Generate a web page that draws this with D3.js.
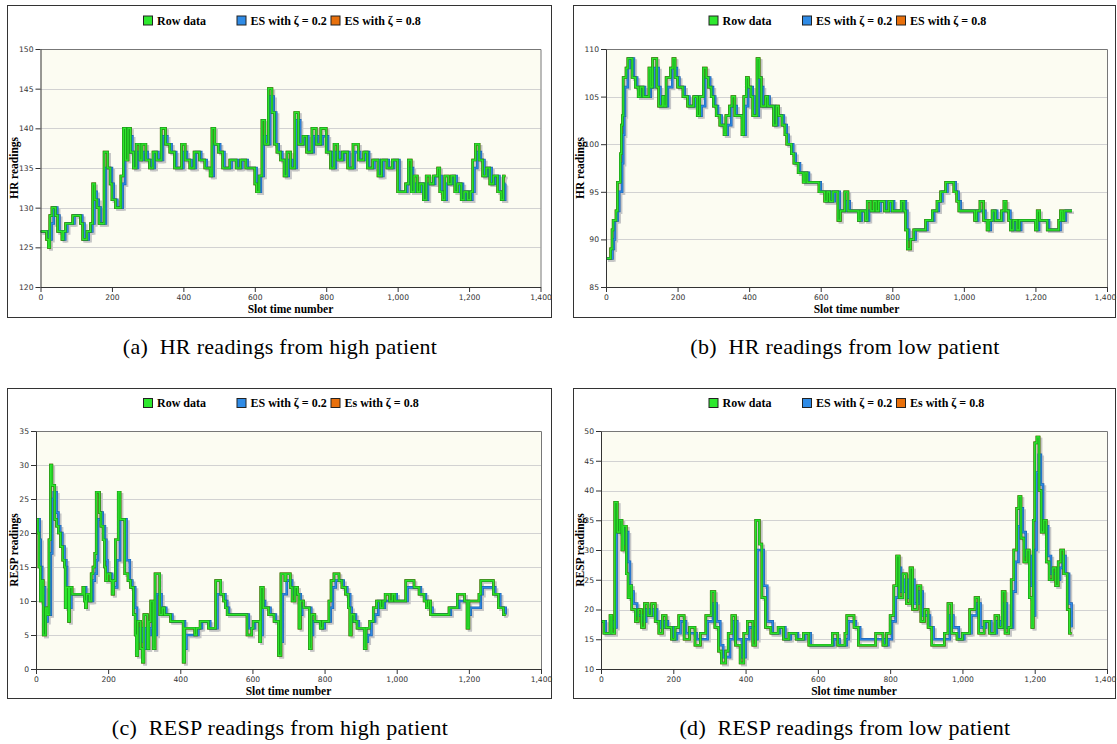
<!DOCTYPE html>
<html>
<head>
<meta charset="utf-8">
<script src="https://cdn.jsdelivr.net/npm/d3@7"></script>
<style>
  body { margin: 0; background: #fff; }
</style>
</head>
<body>
<div id="chart"></div>
<script>
// ---- data: [slot, reading] change points ----
// (a) HR, high patient
var hrHighRaw = [[0,127],[17,126],[22,125],[26,129],[32,130],[42,129],[48,127],[60,126],[64,127],[70,128],[90,129],[112,128],[118,126],[130,127],[140,128],[146,133],[152,131],[158,130],[164,128],[178,137],[188,135],[195,133],[200,131],[210,130],[225,134],[232,140],[238,136],[245,140],[252,137],[260,135],[268,138],[278,136],[284,138],[295,136],[305,135],[315,137],[325,136],[338,140],[350,138],[362,137],[375,135],[395,138],[405,136],[418,135],[430,137],[445,136],[460,135],[475,134],[480,140],[488,138],[498,137],[510,135],[530,136],[548,135],[560,136],[575,135],[600,133],[605,132],[612,134],[620,141],[628,138],[638,145],[648,142],[655,138],[662,137],[672,136],[682,134],[690,137],[700,135],[712,142],[722,138],[735,139],[745,137],[760,140],[772,138],[785,140],[800,137],[812,135],[822,138],[832,136],[845,137],[860,135],[875,138],[890,136],[905,137],[915,135],[930,136],[945,134],[955,136],[970,135],[985,136],[1000,132],[1022,133],[1030,136],[1038,132],[1046,134],[1055,132],[1062,133],[1072,131],[1080,134],[1090,133],[1100,134],[1112,135],[1118,132],[1126,131],[1132,134],[1142,133],[1150,134],[1160,132],[1168,133],[1178,131],[1186,132],[1196,131],[1204,132],[1210,136],[1218,138],[1228,136],[1238,134],[1248,135],[1258,133],[1268,134],[1280,132],[1290,131],[1296,134],[1302,134]];
var hrHighEs2 = [[0,127],[22,126],[31,128],[37,130],[47,129],[53,127],[65,126],[69,127],[75,128],[95,129],[117,128],[123,126],[135,127],[145,128],[151,132],[157,131],[163,130],[169,128],[183,135],[200,133],[205,131],[215,130],[230,133],[237,138],[243,137],[250,139],[257,137],[265,135],[273,137],[283,136],[289,137],[300,136],[310,135],[320,137],[330,136],[343,139],[355,138],[367,137],[380,135],[400,137],[410,136],[423,135],[435,137],[450,136],[465,135],[480,134],[485,138],[503,137],[515,135],[535,136],[553,135],[565,136],[580,135],[605,133],[610,132],[617,134],[625,139],[633,138],[643,144],[653,142],[660,138],[667,137],[677,136],[687,134],[695,136],[705,135],[717,141],[727,138],[740,139],[750,137],[765,139],[777,138],[790,139],[805,137],[817,135],[827,137],[837,136],[850,137],[865,135],[880,137],[895,136],[910,137],[920,135],[935,136],[950,134],[960,136],[975,135],[990,136],[1005,132],[1027,133],[1035,135],[1043,132],[1051,133],[1060,132],[1067,133],[1077,131],[1085,133],[1105,134],[1123,132],[1131,131],[1137,133],[1155,134],[1165,132],[1173,133],[1183,131],[1191,132],[1201,131],[1209,132],[1215,135],[1223,137],[1233,136],[1243,134],[1253,135],[1263,133],[1273,134],[1285,132],[1295,131],[1301,133],[1302,133]];

// (b) HR, low patient
var hrLowRaw = [[0,88],[13,89],[17,91],[20,92],[28,93],[32,96],[40,99],[43,102],[46,103],[48,107],[56,108],[61,109],[73,107],[82,106],[90,105],[96,106],[104,105],[120,108],[125,106],[130,109],[142,106],[147,104],[158,105],[162,104],[168,107],[180,108],[187,109],[193,107],[200,106],[215,105],[228,104],[245,105],[255,103],[262,105],[272,108],[280,107],[286,106],[294,105],[300,104],[308,103],[318,102],[330,101],[335,103],[345,104],[352,105],[360,103],[380,101],[385,105],[392,107],[398,106],[405,105],[410,103],[422,109],[428,107],[434,104],[446,105],[452,104],[468,102],[476,104],[482,103],[492,102],[500,101],[505,100],[518,99],[525,98],[537,97],[551,96],[556,97],[562,96],[595,95],[611,94],[618,95],[625,94],[634,95],[648,92],[655,93],[667,95],[676,93],[705,92],[710,93],[725,92],[730,94],[740,93],[748,94],[755,93],[762,94],[778,93],[790,94],[800,93],[825,94],[833,93],[837,91],[842,89],[851,90],[860,91],[893,92],[912,93],[925,94],[935,95],[949,96],[972,95],[980,94],[986,93],[1030,92],[1035,93],[1045,94],[1055,92],[1065,91],[1070,92],[1079,93],[1088,92],[1105,93],[1112,94],[1118,93],[1125,92],[1130,91],[1138,92],[1148,91],[1155,92],[1200,91],[1205,93],[1212,92],[1233,91],[1265,92],[1270,93],[1275,92],[1280,93],[1302,93]];
var hrLowEs2 = [[0,88],[18,89],[22,90],[25,92],[33,93],[37,95],[45,98],[48,101],[51,103],[53,106],[61,108],[66,109],[78,107],[87,106],[95,105],[101,106],[109,105],[125,107],[130,106],[135,108],[147,106],[152,104],[163,105],[167,104],[173,106],[185,108],[198,107],[205,106],[220,105],[233,104],[250,105],[260,103],[267,104],[277,107],[291,106],[299,105],[305,104],[313,103],[323,102],[335,101],[340,102],[350,104],[365,103],[385,101],[390,104],[397,106],[410,105],[415,103],[427,107],[433,106],[439,104],[451,105],[457,104],[473,102],[481,103],[497,102],[505,101],[510,100],[523,99],[530,98],[542,97],[556,96],[561,97],[567,96],[600,95],[616,94],[623,95],[630,94],[639,95],[653,93],[672,94],[681,93],[710,92],[715,93],[730,92],[735,93],[753,94],[760,93],[767,94],[783,93],[795,94],[805,93],[830,94],[838,93],[842,91],[847,90],[865,91],[898,92],[917,93],[930,94],[940,95],[954,96],[977,95],[985,94],[991,93],[1035,92],[1040,93],[1060,92],[1070,91],[1075,92],[1084,93],[1093,92],[1110,93],[1130,92],[1135,91],[1143,92],[1153,91],[1160,92],[1205,91],[1210,92],[1238,91],[1270,92],[1285,93],[1302,93]];

// (c) RESP, high patient
var respHighRaw = [[0,22],[5,20],[8,15],[12,10],[16,13],[20,5],[27,9],[31,8],[36,19],[40,30],[44,27],[52,22],[57,21],[62,20],[68,18],[74,16],[79,15],[81,9],[84,12],[90,7],[93,12],[100,11],[130,12],[134,10],[137,9],[140,11],[148,10],[153,14],[158,15],[163,17],[167,26],[176,23],[180,21],[186,19],[190,15],[193,13],[198,14],[206,13],[211,11],[215,13],[220,19],[228,26],[233,22],[246,14],[255,13],[262,12],[270,8],[275,5],[278,2],[282,7],[290,3],[295,1],[299,8],[309,3],[313,7],[318,10],[325,3],[330,14],[343,8],[350,9],[356,8],[373,7],[408,1],[412,6],[440,5],[445,6],[455,7],[478,6],[498,13],[512,11],[520,10],[525,9],[530,8],[585,5],[598,6],[602,7],[620,4],[623,12],[630,9],[645,8],[660,7],[672,2],[679,14],[690,13],[693,14],[705,12],[710,10],[718,12],[725,11],[729,6],[733,10],[742,9],[758,3],[763,8],[773,7],[788,6],[795,7],[812,10],[818,13],[826,14],[840,13],[848,12],[858,11],[866,9],[870,5],[874,8],[882,7],[890,6],[910,3],[915,6],[925,7],[935,9],[944,10],[955,9],[962,10],[968,11],[980,10],[988,11],[995,10],[1025,13],[1048,12],[1062,11],[1076,10],[1082,9],[1088,10],[1094,8],[1145,9],[1168,11],[1188,10],[1195,6],[1200,10],[1228,11],[1233,13],[1268,11],[1282,9],[1296,8],[1302,8]];
var respHighEs2 = [[0,22],[10,19],[13,15],[17,11],[21,12],[25,7],[32,8],[41,17],[45,25],[49,26],[57,23],[62,21],[67,20],[73,18],[79,16],[84,15],[86,11],[95,9],[98,11],[135,12],[139,11],[142,10],[158,13],[163,14],[168,16],[172,22],[181,23],[185,21],[191,19],[195,16],[198,14],[211,13],[216,12],[225,16],[233,22],[251,16],[260,13],[267,12],[275,9],[280,6],[283,4],[287,6],[295,4],[300,3],[304,6],[314,5],[318,6],[323,9],[330,5],[335,11],[348,9],[361,8],[378,7],[413,3],[417,5],[450,6],[460,7],[483,6],[503,11],[525,10],[530,9],[535,8],[590,6],[607,7],[625,5],[628,10],[635,9],[650,8],[665,7],[677,4],[684,11],[695,13],[710,12],[715,11],[730,11],[734,8],[738,9],[763,5],[768,7],[793,6],[800,7],[817,9],[823,12],[831,13],[853,12],[863,11],[871,9],[875,7],[879,8],[887,7],[895,6],[915,4],[920,5],[930,7],[940,8],[949,10],[960,9],[967,10],[993,11],[1000,10],[1030,12],[1067,11],[1081,10],[1087,9],[1099,8],[1150,9],[1173,10],[1200,8],[1205,9],[1233,11],[1238,12],[1273,11],[1287,9],[1302,8]];

// (d) RESP, low patient
var respLowRaw = [[0,18],[8,16],[25,19],[30,16],[38,38],[45,33],[52,35],[58,30],[62,34],[70,26],[75,22],[80,24],[85,20],[95,18],[103,20],[112,17],[120,21],[130,19],[140,21],[150,18],[160,16],[170,19],[180,17],[195,15],[205,17],[215,19],[230,15],[245,17],[260,14],[275,16],[290,19],[305,23],[315,17],[325,13],[333,11],[345,13],[352,16],[362,19],[372,14],[385,11],[395,16],[405,18],[420,14],[428,35],[438,31],[445,22],[455,17],[470,16],[490,17],[505,15],[520,16],[540,15],[560,16],[575,14],[640,16],[655,14],[675,16],[680,19],[700,17],[712,14],[760,16],[780,14],[790,16],[800,19],[810,24],[818,29],[825,22],[835,26],[845,21],[855,27],[862,20],[875,24],[885,18],[895,20],[905,17],[915,14],[950,16],[960,21],[970,16],[985,15],[1000,16],[1020,20],[1035,22],[1045,16],[1060,18],[1075,16],[1090,19],[1100,17],[1110,23],[1118,16],[1128,17],[1135,25],[1142,30],[1150,37],[1156,39],[1162,32],[1170,28],[1178,30],[1185,22],[1192,17],[1196,35],[1200,48],[1206,49],[1212,40],[1218,33],[1225,35],[1232,28],[1240,25],[1250,27],[1258,24],[1265,28],[1272,30],[1280,26],[1290,20],[1296,16],[1302,16]];
var respLowEs2 = [[0,18],[13,16],[30,18],[35,17],[43,33],[57,34],[63,31],[67,33],[75,28],[80,24],[85,23],[90,21],[100,19],[117,18],[125,20],[135,19],[145,20],[155,18],[165,17],[175,18],[185,17],[200,15],[210,16],[220,18],[235,16],[265,15],[295,18],[310,21],[320,18],[330,14],[338,12],[357,15],[367,18],[377,15],[390,12],[400,15],[410,17],[425,15],[433,30],[450,24],[460,18],[475,16],[495,17],[510,15],[525,16],[545,15],[565,16],[580,14],[645,15],[660,14],[680,15],[685,18],[705,17],[717,15],[785,14],[795,15],[805,18],[815,22],[823,27],[830,23],[840,25],[850,22],[860,25],[867,21],[880,23],[890,19],[910,17],[920,15],[965,19],[975,17],[990,15],[1005,16],[1025,19],[1040,21],[1050,17],[1065,18],[1080,16],[1095,18],[1105,17],[1115,21],[1123,17],[1140,23],[1147,28],[1155,34],[1161,37],[1167,33],[1175,29],[1190,24],[1197,19],[1201,30],[1205,43],[1211,46],[1217,41],[1223,35],[1230,34],[1237,29],[1245,26],[1263,25],[1270,27],[1277,29],[1285,26],[1295,21],[1302,17]];

// axis tick values and labels
var slotTicks = [0, 200, 400, 600, 800, 1000, 1200, 1400];
var hrHighTicks = [120, 125, 130, 135, 140, 145, 150];
var hrLowTicks = [85, 90, 95, 100, 105, 110];
var respHighTicks = [0, 5, 10, 15, 20, 25, 30, 35];
var respLowTicks = [10, 15, 20, 25, 30, 35, 40, 45, 50];
var legendHR = ["Row data", "ES with ζ = 0.2", "ES with ζ = 0.8"];
var legendRESP = ["Row data", "ES with ζ = 0.2", "Es with ζ = 0.8"];

// ---- layout ----
var svgWidth = 1117;
var svgHeight = 744;
var serif = "'Liberation Serif', 'Times New Roman', serif";
var sans = "'DejaVu Sans', Verdana, sans-serif";

var colors = {
    raw: {outer: "#1b9e1b", inner: "#2ee82e"},
    es2: {outer: "#1d62b4", inner: "#2f8be6"},
    es8: {outer: "#a84600", inner: "#e8700c"}
};

var panels = [
    {box: [7, 5, 544, 312], plot: [40.5, 49, 540.5, 287], ticks: hrHighTicks, yTitle: "HR readings",
     legend: legendHR, legendX: 143, legendY: 15.5, raw: hrHighRaw, es2: hrHighEs2,
     caption: "(a)  HR readings from high patient", capX: 280, capY: 354, titleY: 313},
    {box: [573, 5, 542, 312], plot: [606, 49, 1107, 287], ticks: hrLowTicks, yTitle: "HR readings",
     legend: legendHR, legendX: 708.5, legendY: 15.5, raw: hrLowRaw, es2: hrLowEs2,
     caption: "(b)  HR readings from low patient", capX: 845, capY: 354, titleY: 313},
    {box: [7, 388, 544, 310], plot: [36, 431, 541, 669], ticks: respHighTicks, yTitle: "RESP readings",
     legend: legendRESP, legendX: 143, legendY: 398, raw: respHighRaw, es2: respHighEs2,
     caption: "(c)  RESP readings from high patient", capX: 280, capY: 735, titleY: 695},
    {box: [573, 388, 542, 310], plot: [601, 431, 1107, 669], ticks: respLowTicks, yTitle: "RESP readings",
     legend: legendRESP, legendX: 708.5, legendY: 398, raw: respLowRaw, es2: respLowEs2,
     caption: "(d)  RESP readings from low patient", capX: 845, capY: 735, titleY: 695}
];

var svg = d3.select("#chart")
    .append("svg")
    .attr("width", svgWidth)
    .attr("height", svgHeight)
    .style("background", "#fff");

panels.forEach(function(p, i) {
    var g = svg.append("g");
    var px0 = p.plot[0], py0 = p.plot[1], px1 = p.plot[2], py1 = p.plot[3];

    // outer frame
    g.append("rect")
        .attr("x", p.box[0] + 0.5).attr("y", p.box[1] + 0.5)
        .attr("width", p.box[2]).attr("height", p.box[3])
        .attr("fill", "#fff").attr("stroke", "#333").attr("stroke-width", 1);

    var x = d3.scaleLinear().domain([0, 1400]).range([px0, px1]);
    var y = d3.scaleLinear().domain(d3.extent(p.ticks)).range([py1, py0]);

    // plot background
    g.append("rect")
        .attr("x", px0).attr("y", py0)
        .attr("width", px1 - px0).attr("height", py1 - py0)
        .attr("fill", "#fcfcf2");

    // horizontal gridlines
    g.selectAll(".grid")
        .data(p.ticks.slice(1, -1))
        .enter()
        .append("line")
        .attr("x1", px0).attr("x2", px1)
        .attr("y1", d => Math.round(y(d)) + 0.5)
        .attr("y2", d => Math.round(y(d)) + 0.5)
        .attr("stroke", "#d2d2d2").attr("stroke-width", 1);

    // top / right border
    g.append("path")
        .attr("d", `M${px0},${py0 + 0.5}H${px1 + 0.5}V${py1}`)
        .attr("fill", "none").attr("stroke", "#777").attr("stroke-width", 1);

    // series
    var clipId = "clip" + i;
    g.append("clipPath").attr("id", clipId)
        .append("rect").attr("x", px0).attr("y", py0 - 3)
        .attr("width", px1 - px0 + 4).attr("height", py1 - py0 + 3);

    var line = d3.line()
        .x(d => x(d[0]))
        .y(d => y(d[1]))
        .curve(d3.curveStepAfter);

    var lines = g.append("g").attr("clip-path", `url(#${clipId})`);
    var series = [
        {data: p.raw, c: colors.es8},
        {data: p.es2, c: colors.es2},
        {data: p.raw, c: colors.raw}
    ];
    // drop shadows
    series.forEach(function(s) {
        lines.append("path")
            .attr("d", line(s.data))
            .attr("transform", "translate(2,2)")
            .attr("fill", "none").attr("stroke", "#c6c6c6")
            .attr("stroke-width", 2.4);
    });
    series.forEach(function(s) {
        lines.append("path")
            .attr("d", line(s.data))
            .attr("fill", "none").attr("stroke", s.c.outer)
            .attr("stroke-width", 2.6);
        lines.append("path")
            .attr("d", line(s.data))
            .attr("fill", "none").attr("stroke", s.c.inner)
            .attr("stroke-width", 1.2);
    });

    // axes
    var leftAxis = d3.axisLeft(y).tickValues(p.ticks).tickSize(5).tickSizeOuter(0).tickPadding(2);
    var bottomAxis = d3.axisBottom(x).tickValues(slotTicks).tickSize(5).tickSizeOuter(0)
        .tickPadding(3).tickFormat(d3.format(","));

    var ga = g.append("g").attr("transform", `translate(${px0},0)`).call(leftAxis);
    var gb = g.append("g").attr("transform", `translate(0,${py1})`).call(bottomAxis);
    [ga, gb].forEach(function(a) {
        a.select(".domain").attr("stroke", "#333");
        a.selectAll(".tick line").attr("stroke", "#333");
        a.selectAll("text")
            .attr("fill", "#333")
            .style("font-family", sans)
            .style("font-size", "7.6px");
    });
    // keep the last slot label inside the page
    gb.selectAll(".tick text").each(function() {
        var b = this.getBBox();
        var right = x(1400) + b.x + b.width;
        var t = d3.select(this);
        if (t.text() === "1,400" && right > svgWidth - 1) {
            t.attr("dx", (svgWidth - 1 - right) + "px");
        }
    });

    // axis titles
    g.append("text")
        .attr("x", (px0 + px1) / 2)
        .attr("y", p.titleY)
        .attr("text-anchor", "middle")
        .style("font-family", serif).style("font-size", "11.5px").style("font-weight", "bold")
        .text("Slot time number");

    g.append("text")
        .attr("transform", `translate(${p.box[0] + 11},${(py0 + py1) / 2}) rotate(-90)`)
        .attr("text-anchor", "middle")
        .style("font-family", serif).style("font-size", "11.5px").style("font-weight", "bold")
        .text(p.yTitle);

    // legend
    var keys = [colors.raw, colors.es2, colors.es8];
    var offsets = [0, 93.5, 187.5];
    p.legend.forEach(function(lbl, k) {
        var lx = p.legendX + offsets[k];
        g.append("rect")
            .attr("x", lx + 0.5).attr("y", p.legendY + 0.5)
            .attr("width", 9).attr("height", 9)
            .attr("fill", keys[k].inner).attr("stroke", "#222").attr("stroke-width", 1);
        g.append("text")
            .attr("x", lx + 14)
            .attr("y", p.legendY + 9)
            .style("font-family", serif).style("font-size", "12px").style("font-weight", "bold")
            .text(lbl);
    });

    // caption under the panel
    svg.append("text")
        .attr("x", p.capX)
        .attr("y", p.capY)
        .attr("text-anchor", "middle")
        .attr("xml:space", "preserve")
        .style("white-space", "pre")
        .style("letter-spacing", "0.3px")
        .style("font-family", serif).style("font-size", "22px")
        .text(p.caption);
});
</script>
</body>
</html>
